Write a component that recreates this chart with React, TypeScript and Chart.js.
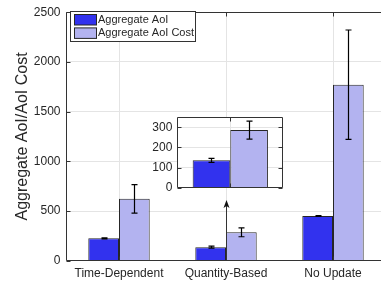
import React, { useEffect, useRef } from 'react';
import { Chart, registerables } from 'chart.js';

Chart.register(...registerables);

const categories = ['Time-Dependent', 'Quantity-Based', 'No Update'];
const seriesLabels = ['Aggregate AoI', 'Aggregate AoI Cost'];
const aoiValues = [225, 136, 449];
const aoiErrors = [5, 10, 4];
const costValues = [622, 286, 1771];
const costErrors = [144, 45, 550];
const mainTicks = [0, 500, 1000, 1500, 2000, 2500];
const insetIndex = 1;
const insetTicks = [0, 100, 200, 300];
const arrowTipValue = 610;

const FONT = "'Liberation Sans', Arial, Helvetica, sans-serif";
const AOI_COLOR = 'rgb(50,50,238)';
const COST_COLOR = 'rgb(179,179,240)';
const EDGE = '#262626';
const AXIS = '#333333';
const GRID = '#e4e4e4';
const TEXT = '#262626';

const errorBarPlugin = {
  id: 'errorBars',
  afterDatasetsDraw(chart: any) {
    const ctx = chart.ctx;
    const y = chart.scales.y;
    chart.data.datasets.forEach((ds: any, di: number) => {
      const errs = ds.errors;
      if (!errs) return;
      const meta = chart.getDatasetMeta(di);
      meta.data.forEach((bar: any, i: number) => {
        const v = ds.data[i];
        const e = errs[i];
        const x = Math.round(bar.x) + 0.5;
        const yt = y.getPixelForValue(v + e);
        const yb = y.getPixelForValue(v - e);
        ctx.save();
        ctx.strokeStyle = '#000';
        ctx.lineWidth = 1.2;
        ctx.beginPath();
        ctx.moveTo(x, yt);
        ctx.lineTo(x, yb);
        ctx.moveTo(x - 3, yt);
        ctx.lineTo(x + 3, yt);
        ctx.moveTo(x - 3, yb);
        ctx.lineTo(x + 3, yb);
        ctx.stroke();
        ctx.restore();
      });
    });
  },
};

function drawFrame(chart: any, fullBox: boolean) {
  const ctx = chart.ctx;
  const { left, right, top, bottom } = chart.chartArea;
  const xs = chart.scales.x;
  const ys = chart.scales.y;
  ctx.save();
  ctx.strokeStyle = AXIS;
  ctx.lineWidth = 1;
  ctx.beginPath();
  const L = Math.round(left) + 0.5;
  const T = Math.round(top) + 0.5;
  const B = Math.round(bottom) - 0.5;
  const R = Math.round(right) - 0.5;
  ctx.moveTo(L, T);
  ctx.lineTo(L, B);
  ctx.lineTo(R, B);
  ctx.moveTo(L, T);
  ctx.lineTo(R, T);
  if (fullBox) {
    ctx.lineTo(R, B);
  }
  ys.ticks.forEach((t: any) => {
    const py = Math.round(ys.getPixelForValue(t.value)) + 0.5;
    ctx.moveTo(L, py);
    ctx.lineTo(L + 4, py);
    if (fullBox) {
      ctx.moveTo(R, py);
      ctx.lineTo(R - 4, py);
    }
  });
  xs.ticks.forEach((t: any, i: number) => {
    const px = Math.round(xs.getPixelForTick(i)) + 0.5;
    ctx.moveTo(px, B);
    ctx.lineTo(px, B - 4);
    ctx.moveTo(px, T);
    ctx.lineTo(px, T + 4);
  });
  ctx.stroke();
  ctx.restore();
}

const mainFramePlugin = {
  id: 'mainFrame',
  afterDatasetsDraw(chart: any) {
    drawFrame(chart, false);
    const ctx = chart.ctx;
    const xs = chart.scales.x;
    const ys = chart.scales.y;
    const ax = Math.round(xs.getPixelForValue(insetIndex)) + 0.5;
    const yBase = ys.getPixelForValue(0);
    const yTip = ys.getPixelForValue(arrowTipValue);
    ctx.save();
    ctx.strokeStyle = AXIS;
    ctx.fillStyle = '#111';
    ctx.lineWidth = 1;
    ctx.beginPath();
    ctx.moveTo(ax, yBase);
    ctx.lineTo(ax, yTip + 4);
    ctx.stroke();
    ctx.beginPath();
    ctx.moveTo(ax, yTip);
    ctx.lineTo(ax - 3, yTip + 8);
    ctx.lineTo(ax, yTip + 6);
    ctx.lineTo(ax + 3, yTip + 8);
    ctx.closePath();
    ctx.fill();
    ctx.restore();
  },
  afterDraw(chart: any) {
    const ctx = chart.ctx;
    const bx = 70.5, by = 11.5, bw = 125, bh = 30;
    ctx.save();
    ctx.fillStyle = '#fff';
    ctx.fillRect(bx, by, bw, bh);
    ctx.strokeStyle = AXIS;
    ctx.lineWidth = 1;
    ctx.strokeRect(bx, by, bw, bh);
    const colors = [AOI_COLOR, COST_COLOR];
    ctx.font = `11px ${FONT}`;
    ctx.textBaseline = 'middle';
    seriesLabels.forEach((lab, i) => {
      const sy = 14.5 + i * 13.4;
      ctx.fillStyle = colors[i];
      ctx.fillRect(74.5, sy, 22, 10.5);
      ctx.strokeStyle = EDGE;
      ctx.strokeRect(74.5, sy, 22, 10.5);
      ctx.fillStyle = TEXT;
      ctx.fillText(lab, 98, sy + 5.5);
    });
    ctx.restore();
  },
};

const insetPlugin = {
  id: 'insetFrame',
  beforeDraw(chart: any) {
    const ctx = chart.ctx;
    const { left, right, top, bottom } = chart.chartArea;
    ctx.save();
    ctx.fillStyle = '#fff';
    ctx.fillRect(left, top, right - left, bottom - top);
    ctx.restore();
  },
  afterDatasetsDraw(chart: any) {
    drawFrame(chart, true);
  },
};

const plainNumber = (v: any) => String(v);

export default function App() {
  const mainRef = useRef<HTMLCanvasElement>(null);
  const insetRef = useRef<HTMLCanvasElement>(null);

  useEffect(() => {
    const tickFont = { family: FONT, size: 12 };
    const main = new Chart(mainRef.current as HTMLCanvasElement, {
      type: 'bar',
      data: {
        labels: categories,
        datasets: [
          {
            label: seriesLabels[0],
            data: aoiValues,
            errors: aoiErrors,
            backgroundColor: AOI_COLOR,
            borderColor: EDGE,
            borderWidth: 1,
            categoryPercentage: 0.574,
            barPercentage: 1,
          } as any,
          {
            label: seriesLabels[1],
            data: costValues,
            errors: costErrors,
            backgroundColor: COST_COLOR,
            borderColor: EDGE,
            borderWidth: 1,
            categoryPercentage: 0.574,
            barPercentage: 1,
          } as any,
        ],
      },
      options: {
        responsive: false,
        animation: false,
        devicePixelRatio: 1,
        layout: { padding: { top: 5, right: 13.5, left: 0, bottom: 0 } },
        plugins: { legend: { display: false }, tooltip: { enabled: false } },
        scales: {
          x: {
            grid: { offset: false, color: GRID, drawTicks: false },
            border: { display: false },
            ticks: { font: tickFont, color: TEXT, padding: 6, maxRotation: 0 },
            afterFit(s: any) { s.height = 23.3; },
          },
          y: {
            min: 0,
            max: 2500,
            afterBuildTicks(s: any) { s.ticks = mainTicks.map((v) => ({ value: v })); },
            grid: { color: GRID, drawTicks: false },
            border: { display: false },
            ticks: { font: tickFont, color: TEXT, padding: 5, callback: plainNumber },
            title: {
              display: true,
              text: 'Aggregate AoI/AoI Cost',
              font: { family: FONT, size: 16 },
              color: TEXT,
              padding: { top: 13, bottom: 0 },
            },
            afterFit(s: any) { s.width = 65.5; },
          },
        },
      } as any,
      plugins: [errorBarPlugin, mainFramePlugin],
    });

    const inset = new Chart(insetRef.current as HTMLCanvasElement, {
      type: 'bar',
      data: {
        labels: [categories[insetIndex]],
        datasets: [
          {
            label: seriesLabels[0],
            data: [aoiValues[insetIndex]],
            errors: [aoiErrors[insetIndex]],
            backgroundColor: AOI_COLOR,
            borderColor: EDGE,
            borderWidth: 1,
            categoryPercentage: 0.71,
            barPercentage: 1,
          } as any,
          {
            label: seriesLabels[1],
            data: [costValues[insetIndex]],
            errors: [costErrors[insetIndex]],
            backgroundColor: COST_COLOR,
            borderColor: EDGE,
            borderWidth: 1,
            categoryPercentage: 0.71,
            barPercentage: 1,
          } as any,
        ],
      },
      options: {
        responsive: false,
        animation: false,
        devicePixelRatio: 1,
        layout: { padding: { top: 10, right: 6.7, left: 0, bottom: 0 } },
        plugins: { legend: { display: false }, tooltip: { enabled: false } },
        scales: {
          x: {
            grid: { offset: false, color: GRID, drawTicks: false },
            border: { display: false },
            ticks: { display: false },
            afterFit(s: any) { s.height = 6.7; },
          },
          y: {
            min: 0,
            max: 350,
            afterBuildTicks(s: any) { s.ticks = insetTicks.map((v) => ({ value: v })); },
            grid: { color: GRID, drawTicks: false },
            border: { display: false },
            ticks: { font: tickFont, color: TEXT, padding: 5, callback: plainNumber },
            afterFit(s: any) { s.width = 37.3; },
          },
        },
      } as any,
      plugins: [insetPlugin, errorBarPlugin],
    });

    return () => {
      main.destroy();
      inset.destroy();
    };
  }, []);

  return (
    <div
      style={{
        position: 'fixed',
        left: 0,
        top: 0,
        width: 381,
        height: 284,
        overflow: 'hidden',
        background: '#fff',
      }}
    >
      <canvas
        ref={mainRef}
        width={400}
        height={284}
        style={{ position: 'absolute', left: 0, top: 0, width: 400, height: 284 }}
      />
      <canvas
        ref={insetRef}
        width={150}
        height={95}
        style={{ position: 'absolute', left: 140, top: 105, width: 150, height: 95 }}
      />
    </div>
  );
}
